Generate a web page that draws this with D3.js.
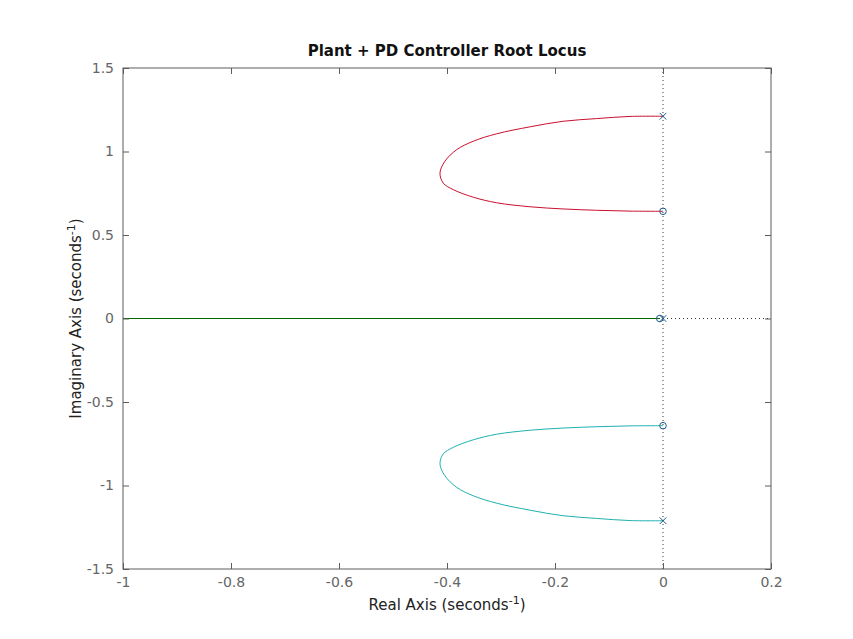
<!DOCTYPE html>
<html><head><meta charset="utf-8">
<script src="https://cdn.jsdelivr.net/npm/d3@7"></script>
<style>body{margin:0;background:#fff;} svg{display:block;}</style>
</head><body>
<svg id="chart" width="853" height="639"></svg>
<script>
const xTicks = [-1, -0.8, -0.6, -0.4, -0.2, 0, 0.2];
const yTicks = [-1.5, -1, -0.5, 0, 0.5, 1, 1.5];
// upper branch (pole -> zero), real parts
const upperRe = [0, -0.061, -0.123, -0.185, -0.246, -0.308, -0.351, -0.382, -0.404, -0.413, -0.407, -0.388, -0.351, -0.308, -0.246, -0.185, -0.123, -0.061, 0];
const upperIm = [1.211, 1.210, 1.197, 1.181, 1.148, 1.106, 1.062, 1.011, 0.941, 0.871, 0.811, 0.771, 0.726, 0.693, 0.669, 0.656, 0.648, 0.643, 0.642];
// real-axis branch
const realRe = [-1.05, -0.006];
const realIm = [0, 0];
// open-loop poles and zeros
const polesRe = [0, 0, 0];
const polesIm = [1.211, -1.211, 0];
const zerosRe = [0, 0, -0.006];
const zerosIm = [0.642, -0.642, 0];

const svg = d3.select("#chart");
const L = 123, R = 771, T = 68, B = 569;
const x = d3.scaleLinear().domain([-1, 0.2]).range([L, R]);
const y = d3.scaleLinear().domain([-1.5, 1.5]).range([B, T]);
const axisColor = "#5c5c5c";
const font = "DejaVu Sans, sans-serif";

svg.append("defs").append("clipPath").attr("id", "clip")
  .append("rect").attr("x", L).attr("y", T).attr("width", R - L).attr("height", B - T);

const g = svg.append("g").attr("clip-path", "url(#clip)");

g.append("line").attr("x1", x(0)).attr("x2", x(0)).attr("y1", T).attr("y2", B)
  .attr("stroke", "#333").attr("stroke-width", 1).attr("stroke-dasharray", "1,3");
g.append("line").attr("x1", L).attr("x2", R).attr("y1", y(0)).attr("y2", y(0))
  .attr("stroke", "#333").attr("stroke-width", 1).attr("stroke-dasharray", "1,3");

const line = d3.line().x(d => x(d[0])).y(d => y(d[1])).curve(d3.curveCatmullRom.alpha(0.5));
const upper = upperRe.map((r, i) => [r, upperIm[i]]);
const lower = upperRe.map((r, i) => [r, -upperIm[i]]);
const realB = realRe.map((r, i) => [r, realIm[i]]);

g.append("path").datum(realB).attr("d", line).attr("fill", "none").attr("stroke", "#006a00").attr("stroke-width", 1);
g.append("path").datum(upper).attr("d", line).attr("fill", "none").attr("stroke", "#c8102e").attr("stroke-width", 1);
g.append("path").datum(lower).attr("d", line).attr("fill", "none").attr("stroke", "#1fb0b0").attr("stroke-width", 1);

const mcol = "#1d5a8a";
g.selectAll("circle.zero").data(zerosRe.map((r, i) => [r, zerosIm[i]])).enter()
  .append("circle").attr("class", "zero")
  .attr("cx", d => x(d[0])).attr("cy", d => y(d[1])).attr("r", 3.3)
  .attr("fill", "none").attr("stroke", mcol).attr("stroke-width", 1);
const s = 3.3;
g.selectAll("path.pole").data(polesRe.map((r, i) => [r, polesIm[i]])).enter()
  .append("path").attr("class", "pole")
  .attr("d", d => { const cx = x(d[0]), cy = y(d[1]);
    return `M${cx - s},${cy - s}L${cx + s},${cy + s}M${cx - s},${cy + s}L${cx + s},${cy - s}`; })
  .attr("fill", "none").attr("stroke", mcol).attr("stroke-width", 1);

svg.append("rect").attr("x", L).attr("y", T).attr("width", R - L).attr("height", B - T)
  .attr("fill", "none").attr("stroke", axisColor).attr("stroke-width", 1);

const fmt = d => String(d);
const xb = svg.append("g").attr("transform", `translate(0,${B})`)
  .call(d3.axisBottom(x).tickValues(xTicks).tickSize(-6).tickPadding(8).tickFormat(fmt));
const xt = svg.append("g").attr("transform", `translate(0,${T})`)
  .call(d3.axisTop(x).tickValues(xTicks).tickSize(-6).tickFormat(""));
const yl = svg.append("g").attr("transform", `translate(${L},0)`)
  .call(d3.axisLeft(y).tickValues(yTicks).tickSize(-6).tickPadding(9).tickFormat(fmt));
const yr = svg.append("g").attr("transform", `translate(${R},0)`)
  .call(d3.axisRight(y).tickValues(yTicks).tickSize(-6).tickFormat(""));
[xb, xt, yl, yr].forEach(a => {
  a.select(".domain").remove();
  a.selectAll("line").attr("stroke", axisColor);
  a.selectAll("text").attr("fill", "#666").attr("font-family", font).attr("font-size", 14);
});

svg.append("text").attr("x", (L + R) / 2).attr("y", 56).attr("text-anchor", "middle")
  .attr("font-family", font).attr("font-weight", "bold").attr("font-size", 15).attr("fill", "#111")
  .text("Plant + PD Controller Root Locus");

const xlab = svg.append("text").attr("x", (L + R) / 2).attr("y", 610).attr("text-anchor", "middle")
  .attr("font-family", font).attr("font-size", 15).attr("fill", "#222");
xlab.append("tspan").text("Real Axis (seconds");
xlab.append("tspan").attr("font-size", 11).attr("dy", -6).text("-1");
xlab.append("tspan").attr("dy", 6).text(")");

const ylab = svg.append("text").attr("transform", `translate(81,${(T + B) / 2}) rotate(-90)`)
  .attr("text-anchor", "middle").attr("font-family", font).attr("font-size", 15).attr("fill", "#222");
ylab.append("tspan").text("Imaginary Axis (seconds");
ylab.append("tspan").attr("font-size", 11).attr("dy", -6).text("-1");
ylab.append("tspan").attr("dy", 6).text(")");
</script>
</body></html>
